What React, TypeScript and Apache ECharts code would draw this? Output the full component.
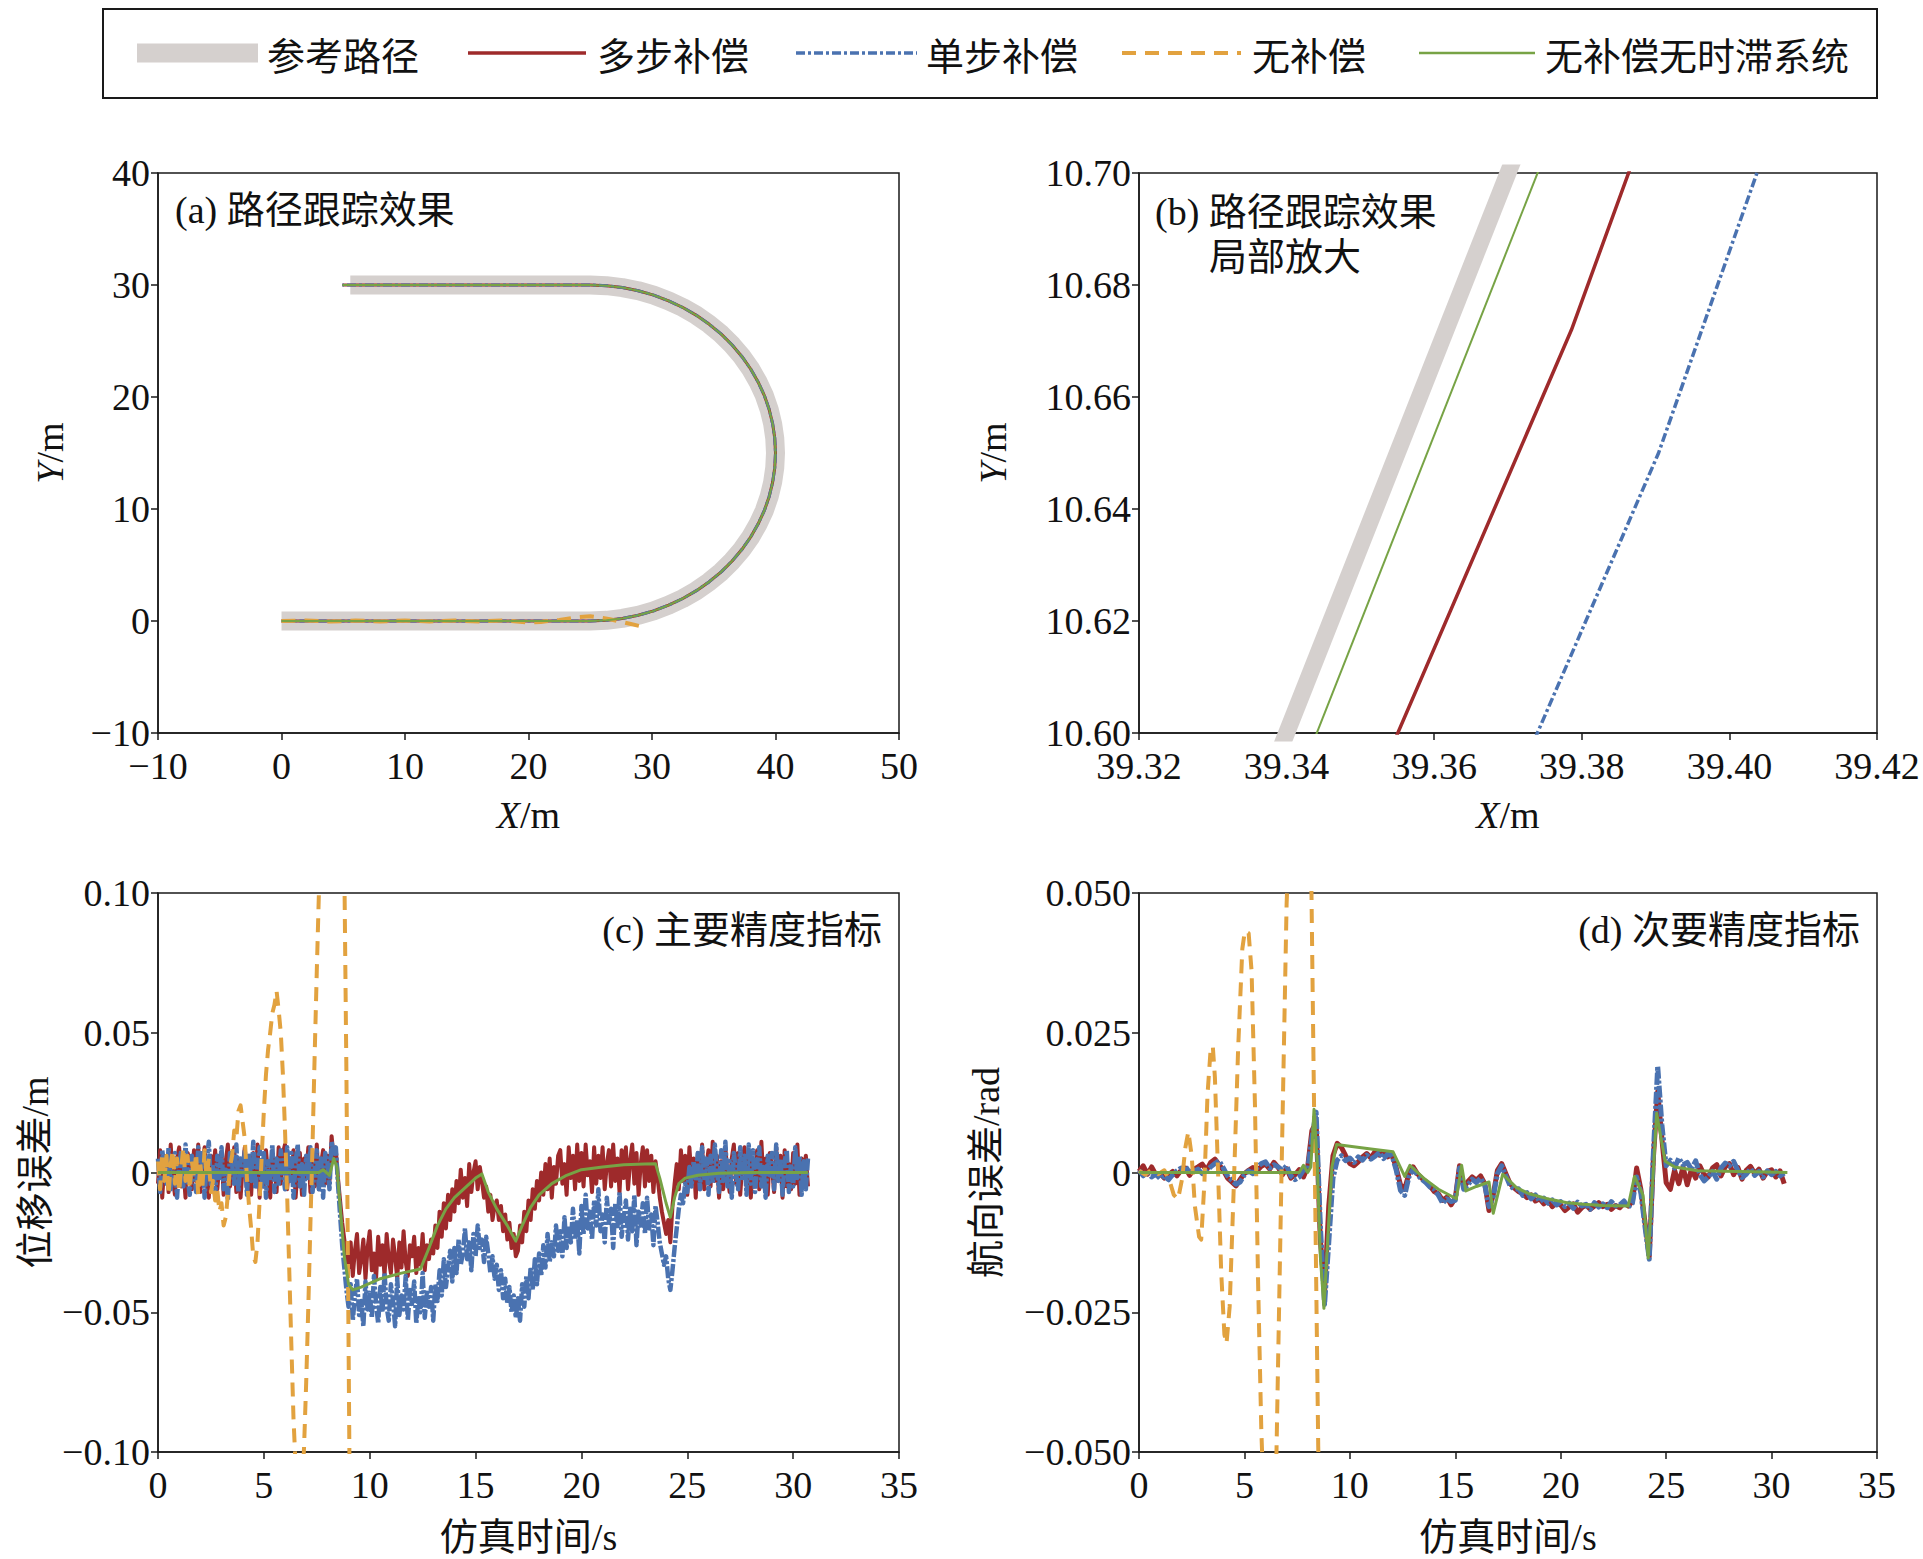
import React, { useEffect, useRef } from "react";
import * as echarts from "echarts";

const W = 1923;
const H = 1559;

const SERIF = "'Liberation Serif', 'Noto Sans CJK SC', serif";
const CJK = "'Noto Sans CJK SC', sans-serif";

const C_REF = "#d5d0ce";
const C_RED = "#9e2a2b";
const C_BLUE = "#4a72b0";
const C_ORANGE = "#e2a23f";
const C_GREEN = "#77a345";

const LEGEND_NAMES = ["参考路径", "多步补偿", "单步补偿", "无补偿", "无补偿无时滞系统"];
const PANEL_TITLES = ["(a) 路径跟踪效果", "(b) 路径跟踪效果", "局部放大", "(c) 主要精度指标", "(d) 次要精度指标"];

// ---------- (a) path tracking ----------
const REF_PATH_A: number[][] = [
  [0, 0], [25, 0], [26.31, 0.06], [27.6, 0.23], [28.88, 0.51], [30.13, 0.9], [31.34, 1.41],
  [32.5, 2.01], [33.6, 2.71], [34.64, 3.51], [35.61, 4.39], [36.49, 5.36], [37.29, 6.4],
  [37.99, 7.5], [38.59, 8.66], [39.1, 9.87], [39.49, 11.12], [39.77, 12.4], [39.94, 13.69],
  [40, 15], [39.94, 16.31], [39.77, 17.6], [39.49, 18.88], [39.1, 20.13], [38.59, 21.34],
  [37.99, 22.5], [37.29, 23.6], [36.49, 24.64], [35.61, 25.61], [34.64, 26.49], [33.6, 27.29],
  [32.5, 27.99], [31.34, 28.59], [30.13, 29.1], [28.88, 29.49], [27.6, 29.77], [26.31, 29.94],
  [25, 30], [5.57, 30],
];
const TRACK_END_A: number[] = [4.93, 30];
const ORANGE_PATH_A: number[][] = [
  [0, 0], [2, 0.05], [4, -0.05], [6, 0.04], [8, -0.04], [10, 0.05], [12, -0.04], [14, 0.05],
  [16, -0.05], [18, 0.06], [20, -0.15], [21, -0.08], [22.5, 0.1], [24, 0.35], [25, 0.42],
  [25.8, 0.3], [26.6, 0.15], [27.4, -0.05], [28.2, -0.25], [29.0, -0.45], [29.5, -0.55],
];

// ---------- (b) zoomed path ----------
const REF_B: number[][] = [[39.337, 10.59], [39.373, 10.71]];
const GREEN_B: number[][] = [[39.3411, 10.59], [39.377, 10.71]];
const RED_B: number[][] = [[39.3518, 10.59], [39.3786, 10.672], [39.3891, 10.71]];
const BLUE_B: number[][] = [[39.3707, 10.59], [39.3904, 10.65], [39.4064, 10.71]];

// ---------- (c) displacement error, sampled every 0.1 s ----------
const T_STEP_C = 0.1;
const DISP_BLUE = [
  0.005, -0.007, 0.008, 0.002, -0.004, 0.009, -0.006, -0.001, 0.007, -0.009,
  0.003, 0.008, -0.005, 0.010, -0.002, -0.008, 0.006, 0.001, -0.007, 0.009,
  -0.003, 0.007, -0.009, 0.004, 0.011, -0.005, 0.002, -0.008, 0.006, -0.002,
  0.009, -0.006, 0.001, -0.010, 0.007, 0.003, -0.004, 0.010, -0.007, 0.005,
  -0.001, 0.008, -0.008, 0.006, -0.003, 0.011, -0.006, 0.002, 0.009, -0.005,
  0.007, -0.009, 0.004, -0.002, 0.010, -0.007, 0.005, -0.004, 0.008, 0.000,
  -0.006, 0.009, -0.003, 0.007, -0.009, 0.004, 0.010, -0.005, 0.003, -0.008,
  0.006, -0.002, 0.009, -0.007, 0.001, 0.008, -0.006, 0.005, -0.009, 0.007,
  0.004, -0.006, 0.011, 0.006, 0.009, -0.004, -0.015, -0.026, -0.034, -0.042,
  -0.048, -0.040, -0.053, -0.044, -0.038, -0.051, -0.046, -0.055, -0.039, -0.049,
  -0.043, -0.052, -0.037, -0.047, -0.054, -0.041, -0.050, -0.036, -0.048, -0.053,
  -0.040, -0.046, -0.055, -0.038, -0.051, -0.044, -0.049, -0.037, -0.053, -0.042,
  -0.047, -0.039, -0.054, -0.045, -0.050, -0.036, -0.052, -0.043, -0.048, -0.041,
  -0.053, -0.040, -0.046, -0.035, -0.044, -0.031, -0.041, -0.034, -0.028, -0.039,
  -0.027, -0.036, -0.024, -0.033, -0.029, -0.020, -0.031, -0.025, -0.035, -0.022,
  -0.030, -0.019, -0.027, -0.024, -0.032, -0.023, -0.029, -0.036, -0.030, -0.038,
  -0.033, -0.042, -0.035, -0.045, -0.038, -0.047, -0.041, -0.050, -0.044, -0.052,
  -0.045, -0.053, -0.040, -0.048, -0.037, -0.045, -0.034, -0.042, -0.031, -0.040,
  -0.029, -0.037, -0.026, -0.034, -0.022, -0.032, -0.025, -0.030, -0.019, -0.028,
  -0.021, -0.030, -0.016, -0.027, -0.019, -0.025, -0.013, -0.024, -0.017, -0.029,
  -0.012, -0.022, -0.008, -0.020, -0.014, -0.024, -0.010, -0.019, -0.006, -0.021,
  -0.015, -0.025, -0.009, -0.018, -0.013, -0.027, -0.011, -0.020, -0.007, -0.023,
  -0.016, -0.010, -0.024, -0.013, -0.021, -0.008, -0.026, -0.014, -0.019, -0.011,
  -0.022, -0.009, -0.020, -0.015, -0.026, -0.012, -0.018, -0.025, -0.029, -0.033,
  -0.030, -0.038, -0.042, -0.035, -0.027, -0.020, -0.013, -0.008, -0.011, -0.004,
  -0.007, 0.002, -0.005, 0.004, -0.003, 0.007, -0.006, 0.009, -0.002, 0.005,
  -0.008, 0.006, -0.004, 0.010, 0.001, -0.007, 0.008, -0.003, 0.011, -0.005,
  0.004, -0.009, 0.007, 0.000, -0.006, 0.009, -0.002, 0.006, -0.008, 0.010,
  -0.004, 0.008, -0.007, 0.003, 0.009, -0.005, 0.002, -0.009, 0.006, -0.001,
  0.007, -0.006, 0.010, -0.003, 0.005, -0.008, 0.004, 0.008, -0.007, 0.003,
  -0.005, 0.009, -0.002, 0.006, -0.008, 0.004, -0.006, 0.005,
];
const DISP_RED = [
  -0.004, 0.008, -0.009, 0.003, 0.006, -0.007, 0.010, -0.002, -0.008, 0.005,
  0.009, -0.005, 0.001, -0.009, 0.007, 0.004, -0.006, 0.008, -0.003, 0.010,
  -0.007, 0.002, 0.009, -0.004, -0.009, 0.006, -0.001, 0.008, -0.006, 0.003,
  0.007, -0.008, 0.004, 0.010, -0.005, -0.002, 0.009, -0.007, 0.005, -0.009,
  0.002, 0.009, -0.006, 0.005, -0.008, 0.007, -0.003, 0.010, -0.009, 0.004,
  -0.005, 0.008, -0.001, -0.009, 0.006, 0.003, -0.007, 0.009, -0.004, 0.007,
  0.010, -0.006, 0.004, -0.003, 0.008, -0.009, 0.002, 0.007, -0.008, 0.005,
  -0.002, 0.009, -0.007, 0.004, -0.005, 0.010, -0.006, 0.003, 0.008, -0.004,
  0.006, -0.003, 0.013, 0.005, 0.008, -0.002, -0.010, -0.018, -0.024, -0.030,
  -0.034, -0.025, -0.037, -0.028, -0.022, -0.036, -0.031, -0.024, -0.038, -0.027,
  -0.021, -0.035, -0.029, -0.038, -0.023, -0.033, -0.026, -0.037, -0.022, -0.031,
  -0.036, -0.024, -0.030, -0.038, -0.025, -0.034, -0.021, -0.032, -0.037, -0.026,
  -0.030, -0.023, -0.036, -0.027, -0.033, -0.022, -0.035, -0.026, -0.031, -0.024,
  -0.029, -0.019, -0.027, -0.014, -0.023, -0.011, -0.020, -0.008, -0.017, -0.006,
  -0.014, -0.003, -0.011, 0.001, -0.009, -0.002, -0.012, 0.003, -0.007, 0.000,
  0.004, -0.006, 0.002, -0.003, -0.009, -0.005, -0.014, -0.008, -0.017, -0.012,
  -0.010, -0.017, -0.012, -0.021, -0.015, -0.024, -0.018, -0.027, -0.022, -0.030,
  -0.028, -0.019, -0.025, -0.014, -0.021, -0.010, -0.017, -0.006, -0.013, -0.003,
  -0.010, 0.000, -0.008, 0.003, -0.006, 0.005, -0.009, 0.002, -0.004, 0.006,
  0.008, -0.004, 0.003, -0.008, 0.009, -0.002, 0.006, -0.006, 0.010, -0.003,
  0.007, -0.005, 0.010, -0.001, 0.004, -0.007, 0.009, -0.004, 0.006, -0.002,
  0.009, -0.006, 0.003, 0.008, -0.005, 0.010, -0.003, 0.005, -0.007, 0.008,
  -0.002, 0.009, -0.006, 0.004, 0.010, -0.004, 0.007, -0.008, 0.003, 0.009,
  -0.005, 0.008, -0.003, 0.006, -0.007, 0.004, -0.002, -0.009, -0.014, -0.018,
  -0.022, -0.017, -0.025, -0.012, -0.004, 0.003, -0.006, 0.008, -0.003, 0.006,
  -0.008, 0.009, -0.002, 0.005, -0.009, 0.007, -0.004, 0.010, -0.006, 0.002,
  0.008, -0.005, 0.011, -0.003, 0.006, -0.009, 0.004, -0.006, 0.009, -0.001,
  -0.007, 0.005, 0.010, -0.004, 0.007, -0.008, 0.003, 0.009, -0.005, 0.006,
  -0.009, 0.004, -0.002, 0.008, -0.006, 0.011, -0.004, 0.005, -0.008, 0.007,
  0.002, -0.007, 0.009, -0.003, 0.006, -0.009, 0.008, -0.005, 0.003, -0.006,
  0.007, -0.004, 0.010, -0.008, 0.005, -0.002, 0.006, -0.005,
];
const DISP_ORANGE: number[][] = [
  [0.0, 0.004], [0.1, -0.006], [0.2, 0.007], [0.3, -0.003], [0.4, 0.006], [0.5, -0.008],
  [0.6, 0.003], [0.7, 0.008], [0.8, -0.004], [0.9, 0.005], [1.0, -0.007], [1.1, 0.002],
  [1.2, 0.009], [1.3, -0.003], [1.4, 0.006], [1.5, -0.006], [1.6, 0.004], [1.7, -0.002],
  [1.8, 0.007], [1.9, -0.008], [2.0, 0.003], [2.1, -0.005], [2.2, 0.008], [2.3, -0.002],
  [2.4, 0.005], [2.5, -0.007], [2.6, -0.003], [2.7, -0.010], [2.8, -0.006], [2.9, -0.014],
  [3.0, -0.011], [3.1, -0.019], [3.2, -0.016], [3.3, -0.008], [3.4, 0.002], [3.5, 0.006],
  [3.6, 0.015], [3.7, 0.012], [3.8, 0.022], [3.9, 0.024], [4.0, 0.018], [4.1, 0.012],
  [4.2, -0.002], [4.3, -0.012], [4.4, -0.020], [4.5, -0.030], [4.6, -0.032], [4.7, -0.025],
  [4.8, -0.010], [4.9, 0.006], [5.0, 0.022], [5.1, 0.035], [5.2, 0.044], [5.3, 0.050],
  [5.4, 0.057], [5.5, 0.060], [5.6, 0.065], [5.7, 0.058], [5.8, 0.050], [5.9, 0.035],
  [6.0, 0.015], [6.1, -0.008], [6.2, -0.035], [6.3, -0.062], [6.4, -0.088], [6.5, -0.105],
  [6.6, -0.118], [6.7, -0.122], [6.8, -0.115], [6.9, -0.098], [7.0, -0.075], [7.1, -0.048],
  [7.2, -0.018], [7.3, 0.010], [7.4, 0.042], [7.5, 0.072], [7.6, 0.100], [7.8, 0.135],
  [8.0, 0.152], [8.2, 0.158], [8.4, 0.150], [8.6, 0.132], [8.8, 0.110], [8.9, 0.035],
  [9.0, -0.060], [9.1, -0.160],
];
const DISP_GREEN: number[][] = [
  [0, 0], [7.6, 0], [7.8, 0.001], [7.95, 0], [8.1, -0.001], [8.3, 0.005], [8.45, 0.002],
  [8.6, -0.012], [8.8, -0.03], [9.0, -0.04], [9.2, -0.042], [9.6, -0.041], [10.5, -0.038],
  [11.5, -0.036], [12.4, -0.0345], [12.8, -0.027], [13.2, -0.019], [13.6, -0.013],
  [14.0, -0.009], [14.5, -0.0055], [15.0, -0.002], [15.3, -0.0005], [15.6, -0.007],
  [16.0, -0.013], [16.5, -0.019], [16.9, -0.0245], [17.2, -0.019], [17.6, -0.0125],
  [18.0, -0.008], [18.6, -0.004], [19.3, -0.001], [20.0, 0.001], [21.0, 0.002],
  [22.0, 0.0028], [23.0, 0.003], [23.5, 0.0031], [23.7, -0.002], [24.0, -0.011],
  [24.2, -0.016], [24.4, -0.009], [24.6, -0.004], [24.9, -0.002], [25.5, -0.001],
  [26.5, -0.0003], [28, 0], [30.7, 0],
];

// ---------- (d) heading error, sampled every 0.2 s ----------
const T_STEP_D = 0.2;
const HEAD_BLUE = [
  0.0004, -0.0006, 0.0002, -0.0008, -0.0003, -0.0011, -0.0006, -0.0013, -0.0004, 0.0003,
  0.0008, 0.0004, 0.0009, 0.0002, 0.0006, -0.0002, 0.0003, 0.0010, 0.0016, 0.0021,
  0.0008, -0.0006, -0.0014, -0.0021, -0.0017, -0.0004, 0.0003, -0.0002, 0.0009, 0.0016,
  0.0019, 0.0008, 0.0014, 0.0010, 0.0004, 0.0012, -0.0006, -0.0013, -0.0008, 0.0004,
  0.0006, 0.0062, 0.0108, -0.0095, -0.0236, -0.0125, -0.0010, 0.0022, 0.0030, 0.0021,
  0.0026, 0.0018, 0.0028, 0.0022, 0.0031, 0.0024, 0.0029, 0.0036, 0.0025, 0.0033,
  0.0030, 0.0004, -0.0032, -0.0041, -0.0008, 0.0006, -0.0004, -0.0012, -0.0018, -0.0026,
  -0.0030, -0.0041, -0.0055, -0.0047, -0.0052, -0.0050, 0.0008, -0.0030, -0.0022, -0.0012,
  -0.0018, -0.0010, -0.0023, -0.0061, -0.0044, -0.0002, 0.0012, -0.0006, -0.0024, -0.0030,
  -0.0029, -0.0041, -0.0036, -0.0047, -0.0040, -0.0052, -0.0046, -0.0055, -0.0049, -0.0058,
  -0.0052, -0.0061, -0.0055, -0.0064, -0.0053, -0.0060, -0.0057, -0.0066, -0.0054, -0.0062,
  -0.0056, -0.0063, -0.0052, -0.0060, -0.0058, -0.0051, -0.0062, -0.0055, -0.0008, -0.0036,
  -0.0098, -0.0155, 0.0040, 0.0190, 0.0085, 0.0012, 0.0022, 0.0008, 0.0026, 0.0014,
  0.0018, 0.0006, 0.0021, -0.0004, -0.0015, -0.0008, 0.0002, -0.0012, 0.0008, 0.0017,
  0.0012, 0.0020, 0.0004, -0.0009, -0.0003, 0.0007, -0.0005, 0.0002, -0.0008, 0.0003,
  -0.0004, 0.0002, -0.0006, -0.0001,
];
const HEAD_RED = [
  0.0002, 0.0012, -0.0003, 0.0010, -0.0004, -0.0002, -0.0010, -0.0004, 0.0002, -0.0006,
  0.0004, 0.0008, -0.0005, 0.0006, 0.0010, 0.0015, 0.0004, 0.0018, 0.0024, 0.0014,
  0.0004, -0.0010, -0.0017, -0.0024, -0.0012, -0.0002, 0.0004, 0.0009, 0.0003, 0.0011,
  0.0015, 0.0006, 0.0018, 0.0009, -0.0004, 0.0007, -0.0010, -0.0004, 0.0005, -0.0008,
  0.0010, 0.0075, 0.0090, -0.0120, -0.0215, -0.0060, 0.0030, 0.0052, 0.0045, 0.0030,
  0.0016, 0.0012, 0.0019, 0.0028, 0.0034, 0.0026, 0.0038, 0.0031, 0.0036, 0.0028,
  0.0032, 0.0008, -0.0022, -0.0030, -0.0002, 0.0010, -0.0002, -0.0010, -0.0016, -0.0024,
  -0.0034, -0.0038, -0.0050, -0.0044, -0.0058, -0.0046, 0.0012, -0.0026, -0.0016, -0.0008,
  -0.0014, -0.0006, -0.0020, -0.0068, -0.0040, 0.0004, 0.0016, -0.0002, -0.0020, -0.0028,
  -0.0034, -0.0038, -0.0045, -0.0040, -0.0051, -0.0047, -0.0056, -0.0050, -0.0061, -0.0054,
  -0.0058, -0.0068, -0.0062, -0.0056, -0.0071, -0.0063, -0.0058, -0.0066, -0.0060, -0.0054,
  -0.0061, -0.0057, -0.0066, -0.0059, -0.0063, -0.0055, -0.0060, -0.0052, 0.0008, -0.0030,
  -0.0090, -0.0150, 0.0030, 0.0145, 0.0060, -0.0018, -0.0030, 0.0004, -0.0020, 0.0010,
  -0.0022, 0.0006, -0.0010, 0.0012, -0.0004, -0.0008, 0.0008, 0.0014, -0.0006, 0.0010,
  0.0016, -0.0004, 0.0009, -0.0012, 0.0004, 0.0011, -0.0002, 0.0006, -0.0010, 0.0002,
  0.0005, -0.0008, 0.0003, -0.0020,
];
const HEAD_ORANGE: number[][] = [
  [0, 0.0003], [0.3, -0.0004], [0.6, 0.0005], [0.9, -0.0003], [1.2, 0.0004], [1.45, -0.0015],
  [1.65, -0.004], [1.85, -0.0048], [2.05, -0.001], [2.2, 0.0045], [2.34, 0.0073], [2.5, 0.003],
  [2.65, -0.006], [2.85, -0.0115], [2.95, -0.012], [3.1, -0.002], [3.25, 0.014], [3.4, 0.0222],
  [3.5, 0.0226], [3.6, 0.017], [3.75, 0.0], [3.9, -0.018], [4.05, -0.029], [4.15, -0.0306],
  [4.3, -0.024], [4.5, -0.002], [4.7, 0.022], [4.9, 0.04], [5.02, 0.0432], [5.2, 0.0428],
  [5.34, 0.036], [5.5, 0.012], [5.65, -0.02], [5.8, -0.046], [5.95, -0.062], [6.2, -0.072],
  [6.4, -0.062], [6.52, -0.05], [6.75, -0.002], [7.0, 0.048], [7.2, 0.068], [7.7, 0.078],
  [8.0, 0.07], [8.18, 0.05], [8.34, 0.0], [8.5, -0.049], [8.6, -0.07],
];
const HEAD_GREEN: number[][] = [
  [0, 0], [7.6, 0], [7.8, 0.0013], [8.0, 0], [8.15, 0.001], [8.3, 0.0113], [8.45, 0.002],
  [8.6, -0.015], [8.77, -0.0243], [8.95, -0.012], [9.15, 0.001], [9.37, 0.005], [10, 0.0047],
  [11, 0.0042], [12.05, 0.0037], [12.6, -0.0007], [12.85, 0.0013], [13.5, -0.001],
  [14.2, -0.003], [15.05, -0.0047], [15.3, 0.0013], [15.5, -0.0033], [16.0, -0.0025],
  [16.6, -0.0017], [16.8, -0.0073], [17.25, -0.0003], [17.9, -0.0027], [18.5, -0.0038],
  [19.5, -0.0048], [20.3, -0.0054], [21.1, -0.0057], [22.0, -0.0059], [23.2, -0.006],
  [23.5, -0.0007], [23.9, -0.004], [24.15, -0.0153], [24.55, 0.0106], [24.95, 0.002],
  [25.4, 0.001], [26.5, 0.0003], [30.75, 0],
];

// ---------- tick values ----------
const A_X = { min: -10, max: 50, interval: 10 };
const A_Y = { min: -10, max: 40, interval: 10 };
const B_X = { min: 39.32, max: 39.42, interval: 0.02 };
const B_Y = { min: 10.6, max: 10.7, interval: 0.02 };
const T_AXIS = { min: 0, max: 35, interval: 5 };
const C_Y = { min: -0.1, max: 0.1, interval: 0.05 };
const D_Y = { min: -0.05, max: 0.05, interval: 0.025 };

const sampled = (vals: number[], step: number) => vals.map((v, i) => [Math.round(i * step * 10) / 10, v]);
const minus = (s: string) => s.replace("-", "\u2212");

function axisBase(gridIndex: number, range: any, fmt: (v: number) => string, margin: number) {
  return {
    type: "value",
    gridIndex,
    min: range.min,
    max: range.max,
    interval: range.interval,
    axisLine: { show: true, onZero: false, lineStyle: { color: "#1a1a1a", width: 1.5 } },
    axisTick: { show: true, inside: false, length: 7, lineStyle: { color: "#1a1a1a", width: 1.5 } },
    axisLabel: { color: "#111", fontFamily: SERIF, fontSize: 38, margin, formatter: fmt },
    splitLine: { show: false },
    nameLocation: "middle",
    nameTextStyle: {
      color: "#111",
      fontFamily: SERIF,
      fontSize: 38,
      rich: { i: { fontStyle: "italic", fontFamily: SERIF, fontSize: 38, color: "#111" } },
    },
  };
}

const fmtInt = (v: number) => minus(String(Math.round(v)));
const fmtFix = (d: number) => (v: number) => (Math.abs(v) < 1e-9 ? "0" : minus(v.toFixed(d)));
const fmt2 = (v: number) => minus(v.toFixed(2));

function lineSeries(name: string, idx: number, data: number[][], color: string, width: number, type: any, z: number, extra: any = {}) {
  return {
    type: "line",
    name,
    xAxisIndex: idx,
    yAxisIndex: idx,
    data,
    symbol: "none",
    showSymbol: false,
    clip: true,
    silent: true,
    z,
    lineStyle: { color, width, type, join: "round", cap: "butt" },
    ...extra,
  };
}

export default function App() {
  const ref = useRef<HTMLDivElement>(null);
  useEffect(() => {
    if (!ref.current) return;
    const chart = echarts.init(ref.current, undefined, { renderer: "svg" });
    const trackA = [...REF_PATH_A.slice(0, -1), TRACK_END_A];
    const DASHDOT = [9, 3, 3, 3];
    const DASHDOT_DENSE = [12, 2, 3, 2];
    const DASH = [14, 9];

    const grids = [
      { left: 158, top: 173, width: 741, height: 560 },
      { left: 1139, top: 173, width: 738, height: 560 },
      { left: 158, top: 893, width: 741, height: 559 },
      { left: 1139, top: 893, width: 738, height: 559 },
    ].map((g) => ({ ...g, show: true, borderColor: "#1a1a1a", borderWidth: 1.5, backgroundColor: "transparent" }));

    const xAxes = [
      { ...axisBase(0, A_X, fmtInt, 14), name: "{i|X}/m", nameGap: 63 },
      { ...axisBase(1, B_X, fmt2, 14), name: "{i|X}/m", nameGap: 63 },
      { ...axisBase(2, T_AXIS, fmtInt, 14), name: "仿真时间/s", nameGap: 66 },
      { ...axisBase(3, T_AXIS, fmtInt, 14), name: "仿真时间/s", nameGap: 66 },
    ];
    const yAxes = [
      { ...axisBase(0, A_Y, fmtInt, 8), name: "{i|Y}/m", nameGap: 89 },
      { ...axisBase(1, B_Y, fmt2, 8), name: "{i|Y}/m", nameGap: 127 },
      { ...axisBase(2, C_Y, fmtFix(2), 8), name: "位移误差/m", nameGap: 104 },
      { ...axisBase(3, D_Y, fmtFix(3), 8), name: "航向误差/rad", nameGap: 134 },
    ];

    const [nRef, nRed, nBlue, nOrange, nGreen] = LEGEND_NAMES;
    const series: any[] = [
      // (a)
      lineSeries(nRef, 0, REF_PATH_A, C_REF, 19, "solid", 1),
      lineSeries(nRed, 0, trackA, C_RED, 3, "solid", 2),
      lineSeries(nBlue, 0, trackA, C_BLUE, 3, DASHDOT, 3),
      lineSeries(nOrange, 0, ORANGE_PATH_A, C_ORANGE, 4, DASH, 4),
      lineSeries(nGreen, 0, trackA, C_GREEN, 2, "solid", 5),
      // (b)
      lineSeries(nRef, 1, REF_B, C_REF, 17, "solid", 1),
      lineSeries(nGreen, 1, GREEN_B, C_GREEN, 2, "solid", 2),
      lineSeries(nRed, 1, RED_B, C_RED, 3.5, "solid", 3),
      lineSeries(nBlue, 1, BLUE_B, C_BLUE, 3.5, DASHDOT, 4),
      // (c)
      lineSeries(nRed, 2, sampled(DISP_RED, T_STEP_C), C_RED, 4, "solid", 2),
      lineSeries(nBlue, 2, sampled(DISP_BLUE, T_STEP_C), C_BLUE, 4.5, DASHDOT_DENSE, 3),
      lineSeries(nOrange, 2, DISP_ORANGE, C_ORANGE, 4, DASH, 4),
      lineSeries(nGreen, 2, DISP_GREEN, C_GREEN, 3, "solid", 5),
      // (d)
      lineSeries(nRed, 3, sampled(HEAD_RED, T_STEP_D), C_RED, 5, "solid", 2),
      lineSeries(nBlue, 3, sampled(HEAD_BLUE, T_STEP_D), C_BLUE, 5, DASHDOT_DENSE, 3),
      lineSeries(nOrange, 3, HEAD_ORANGE, C_ORANGE, 4, DASH, 4),
      lineSeries(nGreen, 3, HEAD_GREEN, C_GREEN, 3, "solid", 5),
    ];

    // legend drawn as graphic
    const LY = 53;
    const legendItems = [
      { x1: 137, x2: 258, tx: 267, kind: "band", color: C_REF, width: 19, dash: null },
      { x1: 468, x2: 586, tx: 597, kind: "line", color: C_RED, width: 3.5, dash: null },
      { x1: 796, x2: 917, tx: 926, kind: "line", color: C_BLUE, width: 3.5, dash: DASHDOT },
      { x1: 1122, x2: 1241, tx: 1252, kind: "line", color: C_ORANGE, width: 4, dash: DASH },
      { x1: 1419, x2: 1535, tx: 1545, kind: "line", color: C_GREEN, width: 2.5, dash: null },
    ];
    const graphic: any[] = [
      {
        type: "rect",
        shape: { x: 103, y: 9, width: 1774, height: 89 },
        style: { fill: "none", stroke: "#1a1a1a", lineWidth: 2 },
      },
    ];
    legendItems.forEach((it, k) => {
      if (it.kind === "band") {
        graphic.push({
          type: "rect",
          shape: { x: it.x1, y: LY - it.width / 2, width: it.x2 - it.x1, height: it.width },
          style: { fill: it.color },
        });
      } else {
        graphic.push({
          type: "line",
          shape: { x1: it.x1, y1: LY, x2: it.x2, y2: LY },
          style: { stroke: it.color, lineWidth: it.width, lineDash: it.dash || undefined },
        });
      }
      graphic.push({
        type: "text",
        x: it.tx,
        y: LY,
        style: { text: LEGEND_NAMES[k], fontFamily: CJK, fontSize: 38, fill: "#111", align: "left", verticalAlign: "middle" },
      });
    });
    const titles = [
      { x: 175, y: 210, align: "left", t: PANEL_TITLES[0] },
      { x: 1155, y: 212, align: "left", t: PANEL_TITLES[1] },
      { x: 1209, y: 257, align: "left", t: PANEL_TITLES[2] },
      { x: 882, y: 930, align: "right", t: PANEL_TITLES[3] },
      { x: 1860, y: 930, align: "right", t: PANEL_TITLES[4] },
    ];
    titles.forEach((tt) =>
      graphic.push({
        type: "text",
        x: tt.x,
        y: tt.y,
        z: 100,
        style: { text: tt.t, fontFamily: SERIF, fontSize: 38, fill: "#111", align: tt.align, verticalAlign: "middle" },
      })
    );

    chart.setOption({
      animation: false,
      backgroundColor: "#ffffff",
      grid: grids,
      xAxis: xAxes,
      yAxis: yAxes,
      series,
      graphic,
    });
    return () => chart.dispose();
  }, []);
  return <div ref={ref} style={{ position: "fixed", left: 0, top: 0, width: W, height: H, background: "#fff" }} />;
}
